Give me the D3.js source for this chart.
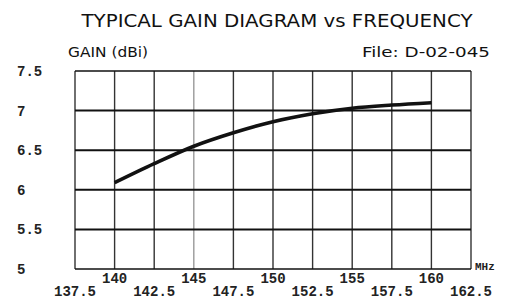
<!DOCTYPE html>
<html>
<head>
<meta charset="utf-8">
<script src="https://cdn.jsdelivr.net/npm/d3@7"></script>
<style>
  body { margin: 0; background: #fff; }
  svg { display: block; }
</style>
</head>
<body>
<div id="chart"></div>
<script>
(function() {

  var width = 517,
      height = 300

  // data
  var freqs = [140, 142.5, 145, 147.5, 150, 152.5, 155, 157.5, 160]
  var gains = [6.09, 6.33, 6.55, 6.72, 6.86, 6.96, 7.03, 7.07, 7.10]
  var xTicksUpper = [140, 145, 150, 155, 160]
  var xTicksLower = [137.5, 142.5, 147.5, 152.5, 157.5, 162.5]
  var yTicks = [5, 5.5, 6, 6.5, 7, 7.5]

  var left = 75, right = 471, top = 71, bottom = 269

  var svg = d3.select("#chart")
    .append("svg")
    .attr("width", width)
    .attr("height", height)

  var x = d3.scaleLinear().domain([137.5, 162.5]).range([left, right])
  var y = d3.scaleLinear().domain([5, 7.5]).range([bottom, top])

  var mono = "'Liberation Mono', 'Courier New', monospace"
  var sans = "'DejaVu Sans', sans-serif"

  // title
  svg.append("text")
    .attr("x", 277)
    .attr("y", 27)
    .attr("text-anchor", "middle")
    .attr("font-family", sans)
    .attr("font-size", 17)
    .attr("textLength", 391)
    .attr("lengthAdjust", "spacingAndGlyphs")
    .attr("fill", "#111")
    .text("TYPICAL GAIN DIAGRAM vs FREQUENCY")

  svg.append("text")
    .attr("x", 68)
    .attr("y", 57)
    .attr("font-family", sans)
    .attr("font-size", 14)
    .attr("textLength", 80)
    .attr("lengthAdjust", "spacingAndGlyphs")
    .attr("fill", "#111")
    .text("GAIN (dBi)")

  svg.append("text")
    .attr("x", 362)
    .attr("y", 57)
    .attr("font-family", sans)
    .attr("font-size", 14)
    .attr("textLength", 128)
    .attr("lengthAdjust", "spacingAndGlyphs")
    .attr("fill", "#111")
    .text("File:  D-02-045")

  // vertical grid lines
  var allX = xTicksUpper.concat(xTicksLower).sort(d3.ascending)
  svg.selectAll(".vgrid")
    .data(allX)
    .enter().append("line")
    .attr("class", "vgrid")
    .attr("x1", function(d) { return x(d) })
    .attr("x2", function(d) { return x(d) })
    .attr("y1", top)
    .attr("y2", bottom)
    .attr("stroke", function(d) { return d === 145 ? "#999" : "#333" })
    .attr("stroke-width", 1.4)

  // horizontal grid lines
  svg.selectAll(".hgrid")
    .data(yTicks)
    .enter().append("line")
    .attr("class", "hgrid")
    .attr("x1", left)
    .attr("x2", right)
    .attr("y1", function(d) { return y(d) })
    .attr("y2", function(d) { return y(d) })
    .attr("stroke", "#111")
    .attr("stroke-width", function(d) { return (d === 5 || d === 7.5) ? 1.4 : 2 })

  // y labels
  svg.selectAll(".ylab")
    .data(yTicks)
    .enter().append("text")
    .attr("class", "ylab")
    .attr("x", 17)
    .attr("y", function(d) { return y(d) })
    .attr("dy", "0.35em")
    .attr("font-family", mono)
    .attr("font-weight", "bold")
    .attr("font-size", 14)
    .attr("fill", "#222")
    .text(function(d) { return d })

  // x labels, two rows
  svg.selectAll(".xup")
    .data(xTicksUpper)
    .enter().append("text")
    .attr("class", "xup")
    .attr("x", function(d) { return x(d) })
    .attr("y", 283)
    .attr("text-anchor", "middle")
    .attr("font-family", mono)
    .attr("font-weight", "bold")
    .attr("font-size", 14)
    .attr("fill", "#222")
    .text(function(d) { return d })

  svg.selectAll(".xlow")
    .data(xTicksLower)
    .enter().append("text")
    .attr("class", "xlow")
    .attr("x", function(d) { return x(d) })
    .attr("y", 296)
    .attr("text-anchor", "middle")
    .attr("font-family", mono)
    .attr("font-weight", "bold")
    .attr("font-size", 14)
    .attr("fill", "#222")
    .text(function(d) { return d })

  svg.append("text")
    .attr("x", 475)
    .attr("y", 270)
    .attr("font-family", mono)
    .attr("font-weight", "bold")
    .attr("font-size", 11)
    .attr("fill", "#222")
    .text("MHz")

  // gain curve
  var line = d3.line()
    .x(function(d, i) { return x(freqs[i]) })
    .y(function(d) { return y(d) })
    .curve(d3.curveMonotoneX)

  svg.append("path")
    .datum(gains)
    .attr("d", line)
    .attr("fill", "none")
    .attr("stroke", "#111")
    .attr("stroke-width", 3.6)

})()
</script>
</body>
</html>
